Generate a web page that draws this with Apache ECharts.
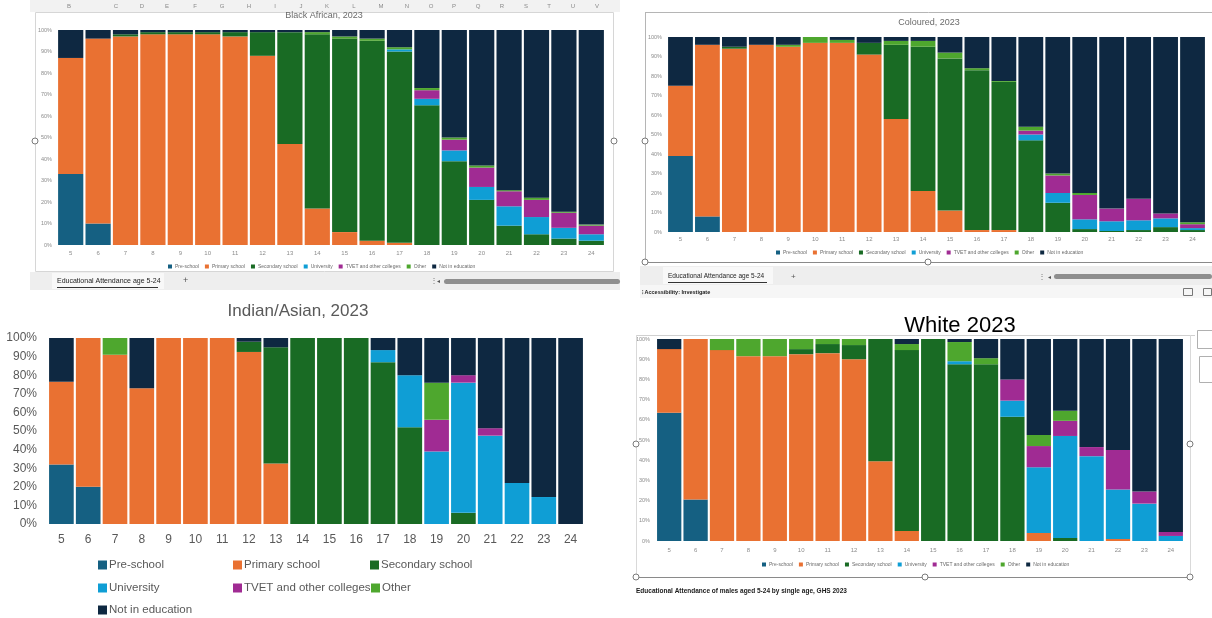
<!DOCTYPE html>
<html>
<head>
<meta charset="utf-8">
<title>Educational attendance by age, 2023</title>
<script src="https://cdn.jsdelivr.net/npm/echarts@6/dist/echarts.min.js"></script>
<style>
  html, body { margin: 0; padding: 0; background: #fff; }
  #chart { width: 1212px; height: 618px; }
</style>
</head>
<body>
<div id="chart"></div>
<script>
// ages 5..24
const ages = ['5','6','7','8','9','10','11','12','13','14','15','16','17','18','19','20','21','22','23','24'];
const levels = ['Pre-school','Primary school','Secondary school','University','TVET and other colleges','Other','Not in education'];
const chartTitles = ['Black African, 2023', 'Coloured, 2023', 'Indian/Asian, 2023', 'White 2023'];

// one row per level (same order as levels), one value (%) per age
const blackAfrican = [
  [33,10,0,0,0,0,0,0,0,0,0,0,0,0,0,0,0,0,0,0],
  [54,86,97,98,98,98,97,88,47,17,6,2,1,0,0,0,0,0,0,0],
  [0,0,1,1,1,1,2,11,52,81,90,93,89,65,39,21,9,5,3,2],
  [0,0,0,0,0,0,0,0,0,0,0,0,1,3,5,6,9,8,5,3],
  [0,0,0,0,0,0,0,0,0,0,0,0,0,4,5,9,7,8,7,4],
  [0,0,0,0,0,0,0,0,0,1,1,1,1,1,1,1,0.5,1,0.5,0.5],
  [13,4,2,1,1,1,1,1,1,1,3,4,8,27,50,63,74.5,78,84.5,90.5]
];
const coloured = [
  [39,8,0,0,0,0,0,0,0,0,0,0,0,0,0,0,0,0,0,0],
  [36,88,94,96,95,97,97,91,58,21,11,1,1,0,0,0,0,0,0,0],
  [0,0,1,0,0,0,0,6,38,74,78,82,76,47,15,1.5,0.5,1,2.5,1],
  [0,0,0,0,0,0,0,0,0,0,0,0,0,3,5,5,5,5,4.5,1],
  [0,0,0,0,0,0,0,0,0,0,0,0,0,2,9,12.5,6.5,11,2.5,2],
  [0,0,0,0,1,3,1.5,0,2,3,3,1,0.5,2,1,1,0,0,0,1],
  [25,4,5,4,4,0,1.5,3,2,2,8,16,22.5,46,70,80,88,83,90.5,95]
];
const indianAsian = [
  [32,20,0,0,0,0,0,0,0,0,0,0,0,0,0,0,0,0,0,0],
  [44.5,80,91,73,100,100,100,92.5,32.5,0,0,0,0,0,0,0,0,0,0,0],
  [0,0,0,0,0,0,0,5.5,62.5,100,100,100,87,52,0,6,0,0,0,0],
  [0,0,0,0,0,0,0,0,0,0,0,0,6.5,28,39,70,47.5,22,14.5,0],
  [0,0,0,0,0,0,0,0,0,0,0,0,0,0,17,4,4,0,0,0],
  [0,0,9,0,0,0,0,0,0,0,0,0,0,0,20,0,0,0,0,0],
  [23.5,0,0,27,0,0,0,2,5,0,0,0,6.5,20,24,20,48.5,78,85.5,100]
];
const white = [
  [63.5,20.5,0,0,0,0,0,0,0,0,0,0,0,0,0,0,0,0,0,0],
  [31.5,79.5,94.5,91.5,91.5,92.5,93,90,39.5,5,0,0,0,0,4,0,0,1,0,0],
  [0,0,0,0,0,2.5,4.5,7,60.5,89.5,100,87.5,87.5,61.5,0,1.5,0,0,0,0],
  [0,0,0,0,0,0,0,0,0,0,0,1.5,0,8,32.5,50.5,42,24.5,18.5,2.5],
  [0,0,0,0,0,0,0,0,0,0,0,0,0,10.5,10.5,7.5,4.5,19.5,6,2],
  [0,0,5.5,8.5,8.5,5,2.5,3,0,3,0,9.5,3,0,5.5,5,0,0,0,0],
  [5,0,0,0,0,0,0,0,0,2.5,0,1.5,9.5,20,47.5,35.5,53.5,55,75.5,95.5]
];

// spreadsheet column letters above the first screenshot
const sheetCols = ['B','C','D','E','F','G','H','I','J','K','L','M','N','O','P','Q','R','S','T','U','V'];
const sheetTab = 'Educational Attendance age 5-24';
const footNote = 'Educational Attendance of males aged 5-24 by single age, GHS 2023';

const levelColors = ['#156082', '#E97132', '#196B24', '#0F9ED5', '#A02B93', '#4EA72E', '#0E2841'];
const panelData = [blackAfrican, coloured, indianAsian, white];

const panels = [
  { grid: { left: 57, top: 30, width: 548, height: 215 }, small: true, xMargin: 5, yMargin: 5,
    title: { x: 324, y: 16, size: 9, color: '#6b6b6b' }, legend: { left: 168, top: 264 } },
  { grid: { left: 667, top: 37, width: 539, height: 195 }, small: true, xMargin: 4, yMargin: 5,
    title: { x: 929, y: 23, size: 9, color: '#6b6b6b' }, legend: { left: 776, top: 250 } },
  { grid: { left: 48, top: 338, width: 536, height: 186 }, small: false, xMargin: 10, yMargin: 11,
    title: { x: 298, y: 311, size: 17, color: '#595959' } },
  { grid: { left: 656, top: 339, width: 528, height: 202 }, small: true, xMargin: 6, yMargin: 6,
    title: { x: 960, y: 326, size: 22, color: '#000' }, legend: { left: 762, top: 562 } }
];

const FONT = 'Liberation Sans';

const grids = [], xAxes = [], yAxes = [], series = [], legends = [], graphics = [];

panels.forEach((p, c) => {
  const labelSize = p.small ? 5.5 : 12;
  const labelColor = p.small ? '#8c8c8c' : '#595959';
  grids.push(p.grid);
  xAxes.push({
    type: 'category', gridIndex: c, data: ages,
    axisLine: { show: false }, axisTick: { show: false },
    axisLabel: { fontSize: p.small ? 6 : 12, color: labelColor, margin: p.xMargin, fontFamily: FONT, interval: 0 }
  });
  yAxes.push({
    type: 'value', gridIndex: c, min: 0, max: 100, interval: 10,
    axisLine: { show: false }, axisTick: { show: false }, splitLine: { show: false },
    axisLabel: { formatter: '{value}%', fontSize: labelSize, color: labelColor, margin: p.yMargin, fontFamily: FONT }
  });
  levels.forEach((name, l) => {
    series.push({
      name: name, type: 'bar', stack: 'panel' + c,
      xAxisIndex: c, yAxisIndex: c,
      data: panelData[c][l],
      barCategoryGap: '8%',
      itemStyle: { color: levelColors[l] },
      emphasis: { disabled: true }
    });
  });
  if (p.legend) {
    legends.push({
      left: p.legend.left, top: p.legend.top, padding: 0,
      itemWidth: 4, itemHeight: 4, itemGap: 6, icon: 'rect',
      textStyle: { fontSize: 5, color: '#6b6b6b', fontFamily: FONT, padding: [0, 0, 0, -2] },
      data: levels
    });
  }
  graphics.push({
    type: 'text', z: 10,
    style: { text: chartTitles[c], x: p.title.x, y: p.title.y, fill: p.title.color,
      font: p.title.size + 'px "' + FONT + '"', align: 'center', verticalAlign: 'middle' }
  });
});

// Indian/Asian legend: three columns like the original
const bigLegendSlots = [
  [98, 566], [233, 566], [370, 566],
  [98, 589], [233, 589], [371, 589],
  [98, 611]
];
levels.forEach((name, l) => {
  legends.push({
    left: bigLegendSlots[l][0], top: bigLegendSlots[l][1] - 7, padding: 0,
    itemWidth: 9, itemHeight: 9, icon: 'rect',
    textStyle: { fontSize: 11.5, color: '#595959', fontFamily: FONT, padding: [0, 0, 0, -3] },
    data: [name]
  });
});

// spreadsheet chrome around the screenshots
function txt(t, x, y, size, color, opts) {
  return Object.assign({ type: 'text', z: 5, style: Object.assign({ text: t, x: x, y: y, fill: color,
    font: size + 'px "' + FONT + '"', align: 'left', verticalAlign: 'middle' }, opts || {}) });
}
function line(x1, y1, x2, y2, color, w) {
  return { type: 'line', z: 1, shape: { x1: x1, y1: y1, x2: x2, y2: y2 }, style: { stroke: color, lineWidth: w || 1 } };
}
function rect(x, y, w, h, fill, stroke, r) {
  return { type: 'rect', z: 0, shape: { x: x, y: y, width: w, height: h, r: r || 0 },
    style: { fill: fill || 'none', stroke: stroke || 'none', lineWidth: 1 } };
}
function handle(x, y) {
  return { type: 'circle', z: 6, shape: { cx: x, cy: y, r: 3 }, style: { fill: '#fff', stroke: '#7a7a7a', lineWidth: 1 } };
}

// top-left sheet
const colX = [69,116,142,167,195,222,249,275,301,327,354,381,407,431,454,478,502,526,549,573,597];
graphics.push(rect(30, 0, 590, 12, '#f2f2f2'));
sheetCols.forEach((s, i) => graphics.push(txt(s, colX[i], 6, 6, '#8a8a8a', { align: 'center' })));
graphics.push(rect(35.5, 12.5, 578, 259, null, '#d6d6d6'));
graphics.push(handle(35, 141), handle(614, 141));
graphics.push(rect(30, 272, 590, 18, '#eeeeee'));
graphics.push(rect(52, 273, 112, 16, '#f8f8f8'));
graphics.push(txt(sheetTab, 57, 281, 7, '#222'));
graphics.push(line(57, 287.5, 158, 287.5, '#333', 1));
graphics.push(txt('+', 183, 281, 9, '#555'));
graphics.push(txt('\u22EE', 430, 281, 8, '#777'));
graphics.push(txt('\u25C2', 437, 281, 6, '#555'));
graphics.push(rect(444, 279, 176, 5, '#8f8f8f', null, 2.5));

// top-right sheet
graphics.push(line(645, 12.5, 1212, 12.5, '#b5b5b5'));
graphics.push(line(645.5, 12, 645.5, 262, '#b5b5b5'));
graphics.push(line(645, 262.5, 1212, 262.5, '#8a8a8a'));
graphics.push(handle(645, 141), handle(645, 262), handle(928, 262));
graphics.push(rect(640, 266, 572, 19, '#eeeeee'));
graphics.push(rect(663, 267, 110, 17, '#f8f8f8'));
graphics.push(txt(sheetTab, 668, 276, 6.5, '#222'));
graphics.push(line(668, 282.5, 767, 282.5, '#333', 1));
graphics.push(txt('+', 791, 277, 8, '#555'));
graphics.push(txt('\u22EE', 1038, 277, 8, '#777'));
graphics.push(txt('\u25C2', 1048, 277, 6, '#555'));
graphics.push(rect(1054, 274, 158, 5, '#8f8f8f', null, 2.5));
graphics.push(rect(640, 285, 572, 13, '#f6f6f6'));
graphics.push(txt('\u205D Accessibility: Investigate', 642, 292, 5.5, '#222', { font: 'bold 5.5px "' + FONT + '"' }));
graphics.push(rect(1183.5, 288.5, 9, 7, null, '#777'));
graphics.push(rect(1203.5, 288.5, 8, 7, null, '#777'));

// bottom-right sheet
graphics.push(line(636, 335.5, 1195, 335.5, '#d0d0d0'));
graphics.push(line(636.5, 335, 636.5, 577, '#d9d9d9'));
graphics.push(line(1190.5, 335, 1190.5, 577, '#d9d9d9'));
graphics.push(line(636, 577.5, 1190, 577.5, '#8a8a8a'));
graphics.push(handle(636, 444), handle(1190, 444), handle(636, 577), handle(925, 577), handle(1190, 577));
graphics.push(rect(1197.5, 330.5, 15, 18, null, '#b0b0b0'));
graphics.push(rect(1199.5, 356.5, 13, 26, null, '#b0b0b0'));
graphics.push(txt(footNote, 636, 591, 6.5, '#1a1a1a', { font: 'bold 6.5px "' + FONT + '"' }));

const chart = echarts.init(document.getElementById('chart'), null, { renderer: 'canvas' });
chart.setOption({
  animation: false,
  backgroundColor: '#fff',
  textStyle: { fontFamily: FONT },
  grid: grids,
  xAxis: xAxes,
  yAxis: yAxes,
  legend: legends,
  tooltip: { show: false },
  series: series,
  graphic: graphics
});
window.addEventListener('resize', () => chart.resize());
</script>
</body>
</html>
